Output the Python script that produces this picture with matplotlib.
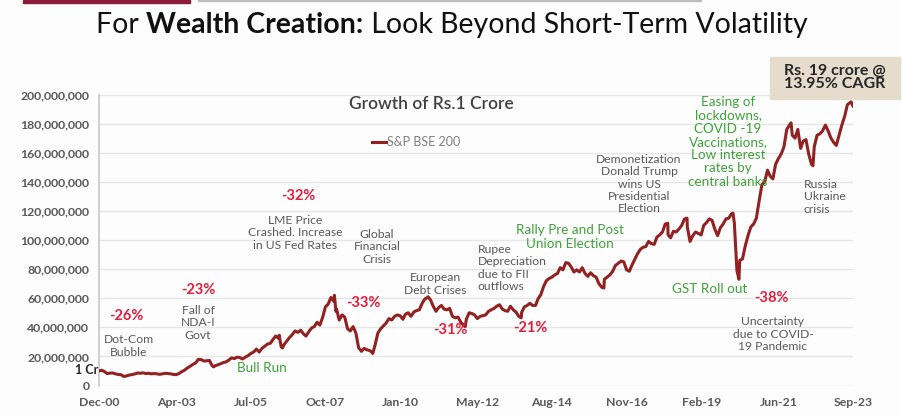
import numpy as np
import pandas as pd
import matplotlib.pyplot as plt
from matplotlib.patches import Rectangle

plt.rcParams['font.family'] = ['Lato', 'DejaVu Sans']

# month-end-ish value of Rs.1 crore invested (in crore), Dec-00 .. Sep-23
start_month = "2000-12-01"
monthly_cr = [
    1.00, 1.05, 0.95, 0.82, 0.85, 0.86, 0.80, 0.76, 0.74, 0.62, 0.66, 0.72, 0.75,   # Dec-00 .. Dec-01
    0.80, 0.86, 0.84, 0.87, 0.82, 0.84, 0.80, 0.82, 0.80, 0.77, 0.80, 0.84,         # 2002
    0.82, 0.80, 0.76, 0.75, 0.82, 0.95, 1.05, 1.20, 1.32, 1.45, 1.55, 1.80,         # 2003
    1.78, 1.68, 1.70, 1.72, 1.36, 1.35, 1.42, 1.49, 1.58, 1.62, 1.75, 1.90,         # 2004
    1.85, 1.95, 1.92, 1.82, 1.95, 2.05, 2.20, 2.30, 2.50, 2.30, 2.55, 2.70,         # 2005
    2.85, 2.90, 3.15, 3.40, 3.25, 2.65, 2.80, 3.05, 3.30, 3.50, 3.75, 3.65,         # 2006
    3.80, 3.55, 3.40, 3.70, 3.95, 4.05, 4.35, 4.15, 4.70, 5.40, 5.60, 6.05,         # 2007
    5.80, 5.25, 4.50, 4.85, 4.70, 3.90, 3.75, 4.05, 3.60, 2.60, 2.35, 2.55,         # 2008
    2.45, 2.40, 2.25, 2.80, 3.60, 3.90, 4.10, 4.30, 4.60, 4.50, 4.75, 4.85,         # 2009
    4.80, 4.55, 4.90, 5.00, 4.75, 5.05, 5.15, 5.20, 5.65, 5.95, 6.05, 5.90,         # 2010
    5.45, 5.10, 5.35, 5.50, 5.25, 5.20, 5.30, 4.75, 4.65, 4.70, 4.35, 4.15,         # 2011
    4.55, 5.00, 4.95, 4.85, 4.60, 4.75, 4.80, 4.85, 5.10, 5.20, 5.30, 5.45,         # 2012
    5.55, 5.25, 5.15, 5.10, 5.45, 5.20, 5.05, 4.75, 5.00, 5.40, 5.50, 5.65,         # 2013
    5.50, 5.50, 5.95, 6.25, 6.80, 7.20, 7.35, 7.45, 7.60, 7.70, 8.10, 7.95,         # 2014
    8.45, 8.40, 8.15, 7.80, 7.95, 7.80, 8.10, 7.70, 7.50, 7.75, 7.55, 7.45,         # 2015
    7.00, 6.75, 7.30, 7.45, 7.60, 7.85, 8.25, 8.40, 8.55, 8.50, 7.95, 7.85,         # 2016
    8.30, 8.70, 9.05, 9.35, 9.50, 9.55, 9.90, 9.75, 9.70, 10.20, 10.35, 10.55,      # 2017
    11.10, 10.35, 10.15, 10.60, 10.55, 10.75, 11.00, 11.45, 10.90, 9.90, 10.30, 10.55,  # 2018
    10.45, 10.35, 11.00, 11.20, 11.45, 11.35, 10.75, 10.30, 10.85, 11.10, 11.45, 11.50,  # 2019
    11.80, 11.20, 7.90, 8.60, 8.70, 9.60, 10.30, 10.90, 11.10, 11.50, 12.70, 13.80,  # 2020
    14.00, 14.80, 14.40, 14.20, 15.20, 15.60, 15.90, 16.40, 17.60, 17.90, 17.20, 17.00,  # 2021
    17.60, 16.30, 16.80, 16.90, 15.90, 15.20, 16.40, 17.20, 17.30, 17.50, 17.90, 17.50,  # 2022
    17.00, 16.70, 16.50, 17.20, 17.90, 18.50, 19.30, 19.45, 19.20,                       # 2023
]
# sharp intra-month swings seen on the chart
spike_dates = ["2004-05-17", "2006-05-10", "2006-06-14", "2008-01-08", "2008-01-25",
               "2009-03-06", "2010-11-05", "2011-12-20", "2013-08-28", "2016-02-25",
               "2018-01-29", "2018-08-29", "2020-01-17", "2020-03-23", "2021-10-18",
               "2022-06-17", "2023-08-10"]
spike_cr = [1.28, 3.45, 2.58, 6.20, 5.10,
            2.20, 6.10, 4.05, 4.65, 6.70,
            11.15, 11.50, 11.85, 7.30, 18.05,
            15.10, 19.50]

tick_dates = ["2000-12-01", "2003-04-01", "2005-07-01", "2007-10-01", "2010-01-01", "2012-05-01",
              "2014-08-01", "2016-11-01", "2019-02-01", "2021-06-01", "2023-09-01"]
tick_labels = ["Dec-00", "Apr-03", "Jul-05", "Oct-07", "Jan-10", "May-12",
               "Aug-14", "Nov-16", "Feb-19", "Jun-21", "Sep-23"]
y_ticks = list(range(0, 200000001, 20000000))

W, H = 902, 416
GRAY = "#595959"
RED = "#e31d3c"
GREEN = "#3ea33a"
LINE = "#922222"


def px(x, y):
    return x / W, 1 - y / H


series = pd.Series(monthly_cr, index=pd.date_range(start_month, periods=len(monthly_cr), freq="MS"))
series = pd.concat([series, pd.Series(spike_cr, index=pd.to_datetime(spike_dates))]).sort_index()

fig = plt.figure(figsize=(W / 100, H / 100), dpi=100)
fig.patch.set_facecolor("#fdfdfd")
ax = fig.add_axes([99 / W, 1 - 385.5 / H, (853 - 99) / W, (385.5 - 94.5) / H])
ax.set_facecolor("#fdfdfd")

ax.plot(series.index, series.values * 1e7, color=LINE, lw=2.2, solid_joinstyle="round",
        label="S&P BSE 200", zorder=3)

ax.set_ylim(0, 200000000)
ax.set_xlim(pd.Timestamp("2000-12-01"), pd.Timestamp("2023-09-01"))
ax.set_yticks(y_ticks)
ax.set_yticklabels([f"{v:,}" for v in y_ticks])
ax.set_xticks(pd.to_datetime(tick_dates))
ax.set_xticklabels(tick_labels)
ax.tick_params(length=0, labelsize=8.8, labelcolor=GRAY)
ax.tick_params(axis="y", pad=7)
ax.tick_params(axis="x", pad=8)
for lab in ax.get_xticklabels() + ax.get_yticklabels():
    lab.set_fontweight("bold")
ax.grid(axis="y", color="#e6e6e6", lw=1)
for s in ["top", "right", "bottom"]:
    ax.spines[s].set_visible(False)
ax.spines["left"].set_color("#c8c8c8")
ax.spines["left"].set_linewidth(1.2)

# legend + chart title
fig.text(*px(431, 104), "Growth of Rs.1 Crore", ha="center", va="center", fontsize=12.5,
         fontweight="semibold", color="#404040")
leg = ax.legend(loc="upper left", bbox_to_anchor=(*px(366, 130),), bbox_transform=fig.transFigure,
                frameon=False, fontsize=9, handlelength=1.1, handletextpad=0.1, borderpad=0)
for t in leg.get_texts():
    t.set_color("#7f7f7f")

# page decorations
fig.patches.append(Rectangle(px(23, 2.5), 167 / W, 2.5 / H, transform=fig.transFigure,
                             color="#8c1a3c", zorder=5))
fig.patches.append(Rectangle(px(198, 1.2), 503 / W, 1.2 / H, transform=fig.transFigure,
                             color="#bdbdbd", zorder=5))

# main title, built from pieces so the bold part can use the same family
renderer = fig.canvas.get_renderer()
parts = [("For ", "normal"), ("Wealth Creation:", "bold"), (" Look Beyond Short-Term Volatility", "normal")]
pieces = [fig.text(0, 0, s, fontsize=20.5, fontweight=w, color="#111111", va="center") for s, w in parts]
widths = [p.get_window_extent(renderer).width for p in pieces]
x0 = 452 - sum(widths) / 2
for p, wd in zip(pieces, widths):
    p.set_position(px(x0, 25))
    x0 += wd

# annotations
notes = [
    (126, 316, "-26%", RED, "center", True, 10.5),
    (129, 346, "Dot-Com\nBubble", GRAY, "center", False, 8.7),
    (198, 290, "-23%", RED, "center", True, 10.5),
    (198, 323, "Fall of\nNDA-I\nGovt", GRAY, "center", False, 8.7),
    (262, 368, "Bull Run", GREEN, "center", False, 9.7),
    (298, 196, "-32%", RED, "center", True, 10.5),
    (295, 233, "LME Price\nCrashed. Increase\nin US Fed Rates", GRAY, "center", False, 8.7),
    (377, 247, "Global\nFinancial\nCrisis", GRAY, "center", False, 8.7),
    (363, 303, "-33%", RED, "center", True, 10.5),
    (435, 284, "European\nDebt Crises", GRAY, "center", False, 8.7),
    (450, 330, "-31%", RED, "center", True, 10.5),
    (478, 268, "Rupee\nDepreciation\ndue to FII\noutflows", GRAY, "left", False, 8.7),
    (530, 328, "-21%", RED, "center", True, 10.5),
    (570, 237, "Rally Pre and Post\nUnion Election", GREEN, "center", False, 9.7),
    (639, 184, "Demonetization\nDonald Trump\nwins US\nPresidential\nElection", GRAY, "center", False, 8.7),
    (728, 142, "Easing of\nlockdowns,\nCOVID -19\nVaccinations,\nLow interest\nrates by\ncentral banks",
     GREEN, "center", False, 9.7),
    (710, 289, "GST Roll out", GREEN, "center", False, 9.7),
    (771, 298, "-38%", RED, "center", True, 10.5),
    (773, 334, "Uncertainty\ndue to COVID-\n19 Pandemic", GRAY, "center", False, 8.7),
    (804, 197, "Russia\nUkraine\ncrisis", GRAY, "left", False, 8.7),
]
for nx, ny, txt, col, ha, bold, fs in notes:
    fig.text(*px(nx, ny), txt, ha=ha, va="center", color=col, fontsize=fs,
             fontweight="bold" if bold else "normal", linespacing=1.12, multialignment=ha)

fig.text(*px(87, 370), "1 Cr", ha="center", va="center", fontsize=9, fontweight="bold", color="#262626")

fig.patches.append(Rectangle(px(770, 99), 130 / W, 42 / H, transform=fig.transFigure,
                             color="#e6dccd", zorder=4))
fig.text(*px(835, 77.5), "Rs. 19 crore @\n13.95% CAGR", ha="center", va="center", fontsize=11.5,
         fontweight="bold", color="#262626", linespacing=1.0, zorder=6)

plt.savefig("out.png", dpi=100)
